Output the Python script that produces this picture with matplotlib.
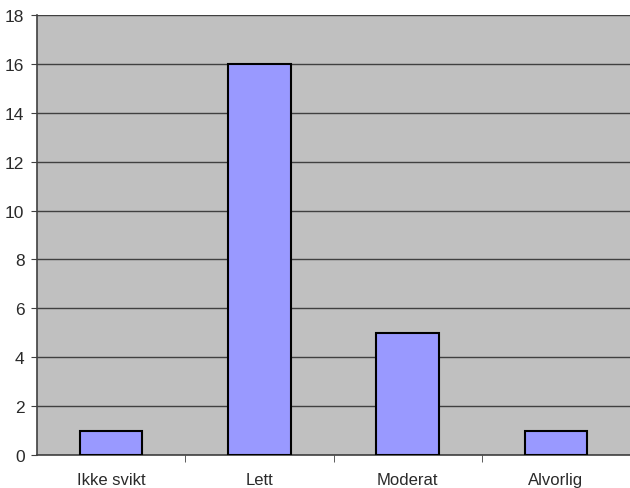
import numpy as np
import matplotlib
matplotlib.use('Agg')
import matplotlib.pyplot as plt

# === data ===
categories = ['Ikke svikt', 'Lett', 'Moderat', 'Alvorlig']
counts = [1, 16, 5, 1]
y_ticks = [0, 2, 4, 6, 8, 10, 12, 14, 16, 18]

plt.rcParams['font.family'] = ['Liberation Sans', 'DejaVu Sans']

fig = plt.figure(figsize=(6.30, 4.89), dpi=100)
ax = fig.add_axes([37 / 630, 33 / 489, 1 - 37 / 630, 440 / 489])
ax.set_facecolor('#C0C0C0')

x = np.arange(len(categories))
ax.bar(x, counts, width=0.42, color='#9999FF', edgecolor='black',
       linewidth=1.5, zorder=3)

ax.set_xlim(-0.5, len(categories) - 0.5)
ax.set_ylim(0, 18)
ax.set_yticks(y_ticks)
ax.yaxis.grid(True, color='#404040', linewidth=1.0, zorder=1)
ax.set_axisbelow(True)

# category labels between boundary ticks
ax.set_xticks(x)
ax.set_xticklabels(categories, fontsize=12, color='#2a2a2a')
ax.tick_params(axis='x', length=0, pad=12)
ax.set_xticks(np.arange(0.5, len(categories) - 0.5, 1), minor=True)
ax.tick_params(axis='x', which='minor', length=5, direction='out', color='#404040')
ax.tick_params(axis='y', length=4, direction='out', color='#404040',
               labelsize=12.5, labelcolor='#2a2a2a', pad=5)

ax.spines['right'].set_visible(False)
ax.spines['top'].set_visible(False)
ax.spines['left'].set_color('#404040')
ax.spines['bottom'].set_color('#404040')
ax.spines['left'].set_linewidth(1.2)
ax.spines['bottom'].set_linewidth(1.2)

fig.savefig('out.png', dpi=100)
